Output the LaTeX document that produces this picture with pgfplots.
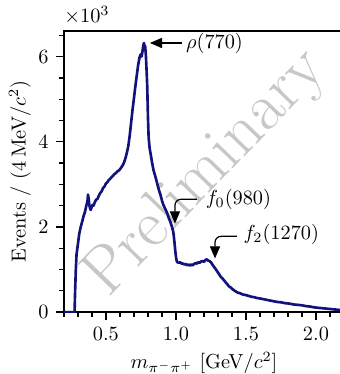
\documentclass[border=0pt]{standalone}
\usepackage{pgfplots}
\pgfplotsset{compat=1.18}
\usetikzlibrary{arrows.meta}
\definecolor{curve}{RGB}{18,18,125}
\begin{document}
\begin{tikzpicture}
\begin{axis}[
  scale only axis, width=138pt, height=138.5pt,
  xmin=0.2, xmax=2.2, ymin=0, ymax=6.6,
  xtick={0.5,1.0,1.5,2.0},
  xticklabels={0.5,1.0,1.5,2.0},
  minor xtick={0.2,0.3,0.4,0.6,0.7,0.8,0.9,1.1,1.2,1.3,1.4,1.6,1.7,1.8,1.9,2.1,2.2},
  ytick={0,2,4,6},
  minor ytick={0.5,1,1.5,2.5,3,3.5,4.5,5,5.5,6.5},
  tick align=outside,
  xtick pos=left, ytick pos=left,
  major tick length=4pt, minor tick length=2.4pt,
  axis line style={line width=0.6pt},
  every tick/.style={black, line width=0.6pt},
  xlabel={$m_{\pi^-\pi^+}$ [GeV$/c^2$]},
  ylabel={Events / (4\,MeV$/c^2$)},
  every axis x label/.style={at={(rel axis cs:0.5,0)}, yshift=-25pt, anchor=center},
  every axis y label/.style={at={(rel axis cs:0,0.5)}, xshift=-21.7pt, rotate=90, anchor=center},
]
\node[rotate=46, text=black!22, font=\fontsize{33}{33}\selectfont] at (axis cs:1.215,3.25) {Preliminary};
\addplot[curve, line width=1.3pt, line join=round] coordinates {
(0.20,0) (0.276,0) (0.280,0.5) (0.285,1.0) (0.290,1.35) (0.300,1.6) (0.310,1.85)
(0.320,2.0) (0.330,2.12) (0.340,2.25) (0.350,2.35) (0.360,2.5) (0.368,2.6) (0.372,2.76)
(0.376,2.68) (0.382,2.5) (0.388,2.42) (0.392,2.40) (0.398,2.47) (0.405,2.52) (0.412,2.50)
(0.420,2.58) (0.430,2.64) (0.440,2.66) (0.450,2.74) (0.460,2.80) (0.470,2.84) (0.480,2.92)
(0.490,2.95) (0.500,3.02) (0.510,3.05) (0.520,3.10) (0.530,3.13) (0.540,3.17) (0.550,3.20)
(0.560,3.24) (0.570,3.26) (0.580,3.30) (0.590,3.32) (0.600,3.35) (0.610,3.40) (0.620,3.45)
(0.630,3.52) (0.640,3.62) (0.650,3.75) (0.660,3.90) (0.670,4.15) (0.680,4.45) (0.690,4.75)
(0.700,5.02) (0.710,5.30) (0.720,5.55) (0.730,5.80) (0.740,5.98) (0.748,6.05) (0.755,6.00)
(0.762,6.15) (0.768,6.28) (0.772,6.32) (0.776,6.22) (0.780,6.25) (0.785,6.05) (0.790,5.70)
(0.795,5.30) (0.800,4.60) (0.805,4.10) (0.812,3.85) (0.820,3.70) (0.830,3.50) (0.840,3.33)
(0.850,3.22) (0.860,3.10) (0.870,2.97) (0.880,2.85) (0.890,2.75) (0.900,2.62) (0.910,2.52)
(0.920,2.45) (0.930,2.38) (0.940,2.30) (0.950,2.20) (0.960,2.12) (0.970,2.02) (0.980,1.90)
(0.985,1.78) (0.990,1.62) (0.995,1.45) (1.000,1.30) (1.005,1.21) (1.010,1.17) (1.020,1.16)
(1.030,1.17) (1.040,1.14) (1.050,1.14) (1.060,1.12) (1.070,1.13) (1.080,1.10) (1.090,1.12)
(1.100,1.09) (1.110,1.12) (1.120,1.10) (1.130,1.13) (1.140,1.15) (1.150,1.14) (1.160,1.17)
(1.170,1.16) (1.180,1.19) (1.190,1.20) (1.200,1.18) (1.210,1.22) (1.220,1.24) (1.230,1.21)
(1.240,1.20) (1.250,1.17) (1.260,1.12) (1.270,1.07) (1.280,1.03) (1.290,0.98) (1.300,0.93)
(1.310,0.88) (1.320,0.83) (1.330,0.80) (1.340,0.76) (1.350,0.72) (1.360,0.68) (1.370,0.64)
(1.380,0.60) (1.390,0.58) (1.400,0.55) (1.420,0.50) (1.440,0.46) (1.460,0.44) (1.480,0.41)
(1.500,0.40) (1.520,0.38) (1.540,0.36) (1.560,0.35) (1.580,0.33) (1.600,0.32) (1.630,0.30)
(1.660,0.28) (1.690,0.26) (1.720,0.24) (1.750,0.23) (1.780,0.21) (1.810,0.20) (1.840,0.18)
(1.870,0.17) (1.900,0.16) (1.930,0.14) (1.960,0.13) (1.990,0.11) (2.020,0.10) (2.050,0.09)
(2.080,0.08) (2.110,0.07) (2.140,0.06) (2.170,0.05) (2.200,0.05)
};
% annotations
\draw[line width=0.6pt, -{Triangle[length=6pt,width=5pt]}] (axis cs:1.043,6.32) -- (axis cs:0.814,6.32);
\node[anchor=west, inner sep=0pt] at (axis cs:1.07,6.32) {$\rho(770)$};
\draw[line width=0.6pt, rounded corners=3pt, -{Triangle[length=6pt,width=5pt]}] (axis cs:1.15,2.65) -- (axis cs:0.993,2.65) -- (axis cs:0.993,2.08);
\node[anchor=west, inner sep=0pt] at (axis cs:1.21,2.65) {$f_0(980)$};
\draw[line width=0.6pt, rounded corners=3pt, -{Triangle[length=6pt,width=5pt]}] (axis cs:1.436,1.78) -- (axis cs:1.279,1.78) -- (axis cs:1.279,1.26);
\node[anchor=west, inner sep=0pt] at (axis cs:1.48,1.83) {$f_2(1270)$};
\coordinate (BL) at (rel axis cs:0,0);
\coordinate (TL) at (rel axis cs:0,1);
\coordinate (TR) at (axis cs:2.17,6.6);
\end{axis}
\node[anchor=south west, inner sep=0pt, yshift=3pt] at (TL) {$\times10^3$};
\pgfresetboundingbox
\path[use as bounding box] ([xshift=-31.5pt,yshift=-30.5pt]BL) rectangle ([yshift=15.3pt]TR);
\end{tikzpicture}
\end{document}
